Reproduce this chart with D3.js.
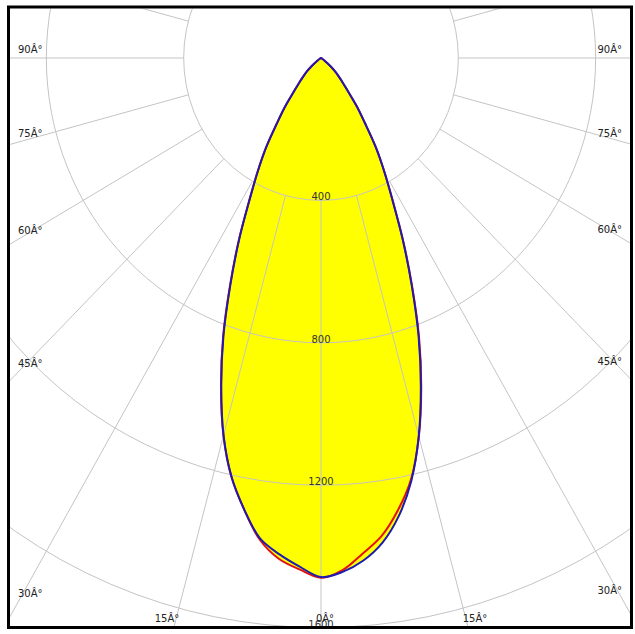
<!DOCTYPE html>
<html>
<head>
<meta charset="utf-8">
<script src="https://cdn.jsdelivr.net/npm/d3@7"></script>
<style>
  body { margin: 0; background: #fff; }
  svg { display: block; }
  .grid { fill: none; stroke: #c4c4c4; stroke-width: 1; }
  .ring-label { font: 10px "DejaVu Sans", sans-serif; fill: #333; }
  .angle-label { font: 10px "DejaVu Sans", sans-serif; fill: #222; }
  .curve-fill { fill: #ffff00; stroke: none; }
  .curve { fill: none; stroke-width: 2; stroke-linejoin: round; }
  .curve.is-c0 { stroke: #e41010; }
  .curve.is-c90 { stroke: #1c1cb0; }
  .frame { fill: none; stroke: #000; stroke-width: 3; }
</style>
</head>
<body>
<svg id="chart"></svg>
<script>
// gamma angles (deg from nadir) and intensities (cd) per half plane
const gammas = [0, 2.5, 5, 7.5, 10, 12.5, 15, 17.5, 20, 22.5, 25, 27.5, 30, 32.5, 35, 37.5, 40, 42.5, 45, 47.5, 50, 55, 60, 70, 80, 90];
const c0 = [1460, 1440, 1397, 1354, 1290, 1212, 1101, 971, 835, 693, 566, 453, 369, 297, 223, 171, 122, 94, 72, 54, 37, 12, 4, 1, 0, 0];
const c180 = [1460, 1438, 1412, 1365, 1288, 1205, 1098, 969, 834, 693, 568, 454, 370, 297, 224, 171, 122, 94, 72, 54, 37, 12, 4, 1, 0, 0];
const c90 = [1458, 1445, 1417, 1373, 1306, 1216, 1100, 967, 831, 690, 564, 452, 369, 297, 223, 171, 122, 94, 72, 54, 37, 12, 4, 1, 0, 0];
const c270 = [1458, 1430, 1399, 1361, 1288, 1205, 1097, 966, 831, 690, 566, 453, 369, 297, 223, 171, 122, 94, 72, 54, 37, 12, 4, 1, 0, 0];

const rings = [400, 800, 1200, 1600, 2000];
const ringLabels = ["400", "800", "1200", "1600"];
const rayAngles = d3.range(0, 360, 15);
const labelAngles = [0, 15, 30, 45, 60, 75, 90];

const W = 635;
const H = 634;
const FRAME = { x0: 10, y0: 8.5, x1: 630, y1: 626 };
const CX = 321;
const CY = 58;
const rad = (d) => (d * Math.PI) / 180;

// picture is slightly stretched vertically, so two radial scales
const rx = d3.scaleLinear().domain([0, 1600]).range([0, 549.3]);
const ry = d3.scaleLinear().domain([0, 1600]).range([0, 569.6]);

const px = (g, v) => CX + rx(v) * Math.sin(rad(g));
const py = (g, v) => CY + ry(v) * Math.cos(rad(g));

const svg = d3.select("#chart").attr("width", W).attr("height", H);

svg
  .append("defs")
  .append("clipPath")
  .attr("id", "plot-clip")
  .append("rect")
  .attr("x", FRAME.x0)
  .attr("y", FRAME.y0)
  .attr("width", FRAME.x1 - FRAME.x0)
  .attr("height", FRAME.y1 - FRAME.y0);

const plot = svg.append("g").attr("clip-path", "url(#plot-clip)");

// one closed outline per plane: left half from 90 down to 0, right half 0 up to 90
function planePoints(left, right) {
  const pts = [];
  for (let i = gammas.length - 1; i >= 0; i--) pts.push([-gammas[i], left[i]]);
  for (let i = 1; i < gammas.length; i++) pts.push([gammas[i], right[i]]);
  return pts;
}

const planes = [
  { key: "c90", pts: planePoints(c270, c90) },
  { key: "c0", pts: planePoints(c180, c0) },
];

const line = d3
  .line()
  .x((d) => px(d[0], d[1]))
  .y((d) => py(d[0], d[1]))
  .curve(d3.curveCatmullRom.alpha(0.5));

// Fill
plot
  .selectAll(".curve-fill")
  .data(planes)
  .join("path")
  .attr("class", "curve-fill")
  .attr("d", (d) => line(d.pts) + "Z");

// Grid circles
plot
  .selectAll(".grid-ring")
  .data(rings)
  .join("ellipse")
  .attr("class", "grid grid-ring")
  .attr("cx", CX)
  .attr("cy", CY)
  .attr("rx", (d) => rx(d))
  .attr("ry", (d) => ry(d));

// Grid rays, from the first ring outwards
plot
  .selectAll(".grid-ray")
  .data(rayAngles)
  .join("line")
  .attr("class", "grid grid-ray")
  .attr("x1", (d) => px(d, rings[0]))
  .attr("y1", (d) => py(d, rings[0]))
  .attr("x2", (d) => px(d, 3000))
  .attr("y2", (d) => py(d, 3000));

// Ring values
plot
  .selectAll(".ring-label")
  .data(ringLabels)
  .join("text")
  .attr("class", "ring-label")
  .attr("text-anchor", "middle")
  .attr("x", CX)
  .attr("y", (d) => py(0, +d))
  .text((d) => d);

// Angle labels where each ray meets the frame
function labelPos(a, side) {
  const ux = side * rx(1) * Math.sin(rad(a));
  const uy = ry(1) * Math.cos(rad(a));
  const left = FRAME.x0 + 8;
  const right = FRAME.x1 - 8;
  const bottom = FRAME.y1 - 4;
  const tSide = ux === 0 ? Infinity : (side < 0 ? CX - left : right - CX) / Math.abs(ux);
  const tBot = uy > 1e-9 ? (bottom - CY) / uy : Infinity;
  if (tSide < tBot) {
    return { x: side < 0 ? left : right, y: CY + uy * tSide - 5, anchor: side < 0 ? "start" : "end" };
  }
  return {
    x: CX + ux * tBot - side * 4,
    y: bottom,
    anchor: a === 0 ? "middle" : side < 0 ? "end" : "start",
  };
}

const angleLabels = [];
labelAngles.forEach((a) => {
  angleLabels.push({ a, ...labelPos(a, -1) });
  if (a !== 0) angleLabels.push({ a, ...labelPos(a, 1) });
});

plot
  .selectAll(".angle-label")
  .data(angleLabels)
  .join("text")
  .attr("class", "angle-label")
  .attr("x", (d) => d.x)
  .attr("y", (d) => d.y)
  .attr("text-anchor", (d) => d.anchor)
  .text((d) => `${d.a}Â°`);

// Outlines, red under blue
plot
  .selectAll(".curve")
  .data(planes.slice().reverse())
  .join("path")
  .attr("class", (d) => `curve is-${d.key}`)
  .attr("d", (d) => line(d.pts) + "Z");

// Frame
svg
  .append("rect")
  .attr("class", "frame")
  .attr("x", 8.5)
  .attr("y", 7)
  .attr("width", 623)
  .attr("height", 620.5);
</script>
</body>
</html>
